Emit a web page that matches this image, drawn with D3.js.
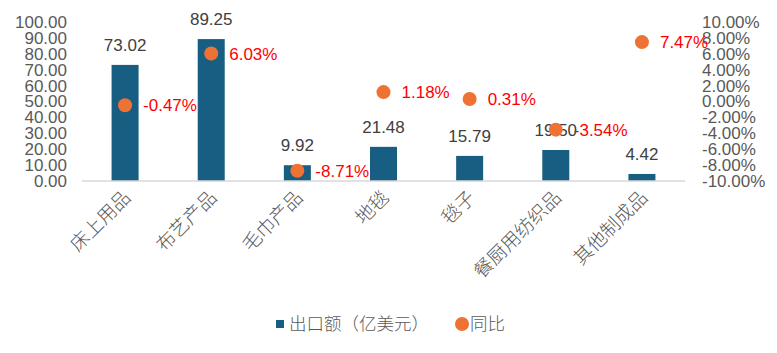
<!DOCTYPE html>
<html>
<head>
<meta charset="utf-8">
<script src="https://cdn.jsdelivr.net/npm/d3@7"></script>
<style>
  body { margin: 0; background: #fff; }
  text { font-family: "Liberation Sans", "Noto Sans CJK SC", sans-serif; }
</style>
</head>
<body>
<div id="chart"></div>
<script>
// Data
const categories = ['床上用品', '布艺产品', '毛巾产品', '地毯', '毯子', '餐厨用纺织品', '其他制成品'];
const exportValues = [73.02, 89.25, 9.92, 21.48, 15.79, 19.50, 4.42];
const yoyValues = [-0.47, 6.03, -8.71, 1.18, 0.31, -3.54, 7.47];
const leftTicks = [0, 10, 20, 30, 40, 50, 60, 70, 80, 90, 100];
const rightTicks = [-10, -8, -6, -4, -2, 0, 2, 4, 6, 8, 10];

const width = 777;
const height = 353;
const plot = { left: 82, right: 685, top: 22, bottom: 181 };

const svg = d3.select('#chart').append('svg')
    .attr('width', width)
    .attr('height', height);

const x = d3.scaleBand()
    .domain(categories)
    .range([plot.left, plot.right]);

const yLeft = d3.scaleLinear().domain([0, 100]).range([plot.bottom, plot.top]);
const yRight = d3.scaleLinear().domain([-10, 10]).range([plot.bottom, plot.top]);

const barWidth = 27;
const cjk = '"Noto Sans CJK SC", sans-serif';

// Left axis labels
svg.append('g').selectAll('text')
    .data(leftTicks)
    .join('text')
    .attr('x', 67)
    .attr('y', d => yLeft(d))
    .attr('dy', '0.35em')
    .attr('text-anchor', 'end')
    .attr('fill', '#595959')
    .style('font-size', '17px')
    .text(d => d.toFixed(2));

// Right axis labels
svg.append('g').selectAll('text')
    .data(rightTicks)
    .join('text')
    .attr('x', 702)
    .attr('y', d => yRight(d))
    .attr('dy', '0.35em')
    .attr('text-anchor', 'start')
    .attr('fill', '#595959')
    .style('font-size', '17px')
    .text(d => d.toFixed(2) + '%');

// Bars
svg.append('g').selectAll('rect')
    .data(exportValues)
    .join('rect')
    .attr('x', (d, i) => x(categories[i]) + x.bandwidth() / 2 - barWidth / 2)
    .attr('y', d => yLeft(d))
    .attr('width', barWidth)
    .attr('height', d => yLeft(0) - yLeft(d))
    .attr('fill', '#175E82');

// Baseline
svg.append('line')
    .attr('x1', plot.left)
    .attr('x2', plot.right)
    .attr('y1', yLeft(0))
    .attr('y2', yLeft(0))
    .attr('stroke', '#D9D9D9')
    .attr('stroke-width', 1.5);

// Bar value labels
svg.append('g').selectAll('text')
    .data(exportValues)
    .join('text')
    .attr('x', (d, i) => x(categories[i]) + x.bandwidth() / 2)
    .attr('y', d => yLeft(d) - 14)
    .attr('text-anchor', 'middle')
    .attr('fill', '#404040')
    .style('font-size', '17px')
    .text(d => d.toFixed(2));

// YoY dots
svg.append('g').selectAll('circle')
    .data(yoyValues)
    .join('circle')
    .attr('cx', (d, i) => x(categories[i]) + x.bandwidth() / 2)
    .attr('cy', d => yRight(d))
    .attr('r', 7)
    .attr('fill', '#ED7233');

// YoY labels
svg.append('g').selectAll('text')
    .data(yoyValues)
    .join('text')
    .attr('x', (d, i) => x(categories[i]) + x.bandwidth() / 2 + 18)
    .attr('y', d => yRight(d))
    .attr('dy', '0.35em')
    .attr('text-anchor', 'start')
    .attr('fill', '#FF0000')
    .style('font-size', '17px')
    .text(d => d.toFixed(2) + '%');

// Category labels, rotated
svg.append('g').selectAll('text')
    .data(categories)
    .join('text')
    .attr('transform', d => `translate(${x(d) + x.bandwidth() / 2 + 2},${plot.bottom + 13}) rotate(-45)`)
    .attr('text-anchor', 'end')
    .attr('dy', '0.35em')
    .attr('fill', '#595959')
    .style('font-family', cjk)
    .style('font-size', '19px')
    .style('font-weight', 300)
    .text(d => d);

// Legend
const legend = svg.append('g');
legend.append('rect')
    .attr('x', 276).attr('y', 320)
    .attr('width', 8).attr('height', 8)
    .attr('fill', '#175E82');
legend.append('text')
    .attr('x', 289).attr('y', 324)
    .attr('dy', '0.35em')
    .attr('fill', '#595959')
    .style('font-family', cjk)
    .style('font-size', '17.5px')
    .style('font-weight', 300)
    .text('出口额（亿美元）');
legend.append('circle')
    .attr('cx', 462).attr('cy', 324)
    .attr('r', 7)
    .attr('fill', '#ED7233');
legend.append('text')
    .attr('x', 470).attr('y', 324)
    .attr('dy', '0.35em')
    .attr('fill', '#595959')
    .style('font-family', cjk)
    .style('font-size', '17.5px')
    .style('font-weight', 300)
    .text('同比');
</script>
</body>
</html>
